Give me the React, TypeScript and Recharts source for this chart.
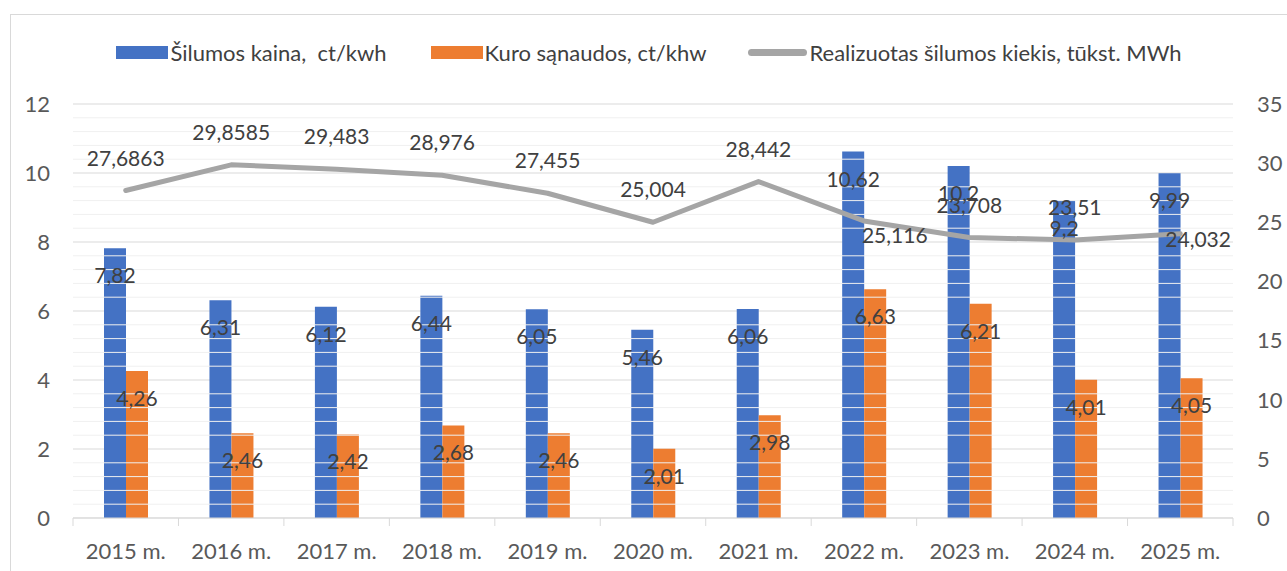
import React from 'react';
import {
  ComposedChart, Bar, Line, XAxis, YAxis, CartesianGrid, Legend, LabelList, ReferenceLine,
} from 'recharts';

const categories = ['2015 m.', '2016 m.', '2017 m.', '2018 m.', '2019 m.', '2020 m.', '2021 m.', '2022 m.', '2023 m.', '2024 m.', '2025 m.'];
const heatPrice = [7.82, 6.31, 6.12, 6.44, 6.05, 5.46, 6.06, 10.62, 10.2, 9.2, 9.99];
const fuelCost = [4.26, 2.46, 2.42, 2.68, 2.46, 2.01, 2.98, 6.63, 6.21, 4.01, 4.05];
const heatSold = [27.6863, 29.8585, 29.483, 28.976, 27.455, 25.004, 28.442, 25.116, 23.708, 23.51, 24.032];
const leftTicks = [0, 2, 4, 6, 8, 10, 12];
const rightTicks = [0, 5, 10, 15, 20, 25, 30, 35];
const minorGrid = [0.4, 0.8, 1.2, 1.6, 2.4, 2.8, 3.2, 3.6, 4.4, 4.8, 5.2, 5.6, 6.4, 6.8, 7.2, 7.6, 8.4, 8.8, 9.2, 9.6, 10.4, 10.8, 11.2, 11.6];

const seriesNames = {
  price: 'Šilumos kaina,  ct/kwh',
  fuel: 'Kuro sąnaudos, ct/khw',
  sold: 'Realizuotas šilumos kiekis, tūkst. MWh',
};

const data = categories.map((c, i) => ({
  category: c,
  price: heatPrice[i],
  fuel: fuelCost[i],
  sold: heatSold[i],
}));

const BLUE = '#4472C4';
const ORANGE = '#ED7D31';
const GREY = '#A5A5A5';
const TEXT = '#404040';
const AXIS_TEXT = '#595959';
const FONT = 'Lato, "Open Sans", sans-serif';
const TICK_MARGIN = 25;

const fmt = (v: any) => String(v).replace('.', ',');

const XTick = (props: any) => {
  const { x, y, payload, index } = props;
  const off = payload && payload.offset ? payload.offset : 0;
  const axisY = y - TICK_MARGIN;
  return (
    <g>
      <line x1={x - off} x2={x - off} y1={axisY} y2={axisY + 8} stroke="#d9d9d9" strokeWidth={1} />
      {index === categories.length - 1 && (
        <line x1={x + off} x2={x + off} y1={axisY} y2={axisY + 8} stroke="#d9d9d9" strokeWidth={1} />
      )}
      <text x={x} y={y} dy="0.71em" textAnchor="middle" fill={AXIS_TEXT} fontSize={22} fontFamily={FONT}>
        {payload.value}
      </text>
    </g>
  );
};

const LineLabel = (props: any) => {
  const { x, y, value, index } = props;
  let tx = x;
  let ty = y - 25;
  let anchor: any = 'middle';
  if (index === 7) {
    tx = x - 2;
    ty = y + 22;
    anchor = 'start';
  } else if (index === 10) {
    tx = x - 15;
    ty = y + 13;
    anchor = 'start';
  }
  return (
    <text x={tx} y={ty} textAnchor={anchor} fill={TEXT} fontSize={21} fontFamily={FONT}>
      {fmt(value)}
    </text>
  );
};

const LegendContent = () => (
  <div style={{ display: 'flex', justifyContent: 'center', alignItems: 'center', fontFamily: FONT, fontSize: 22, color: TEXT, height: 30, whiteSpace: 'pre' }}>
    <div style={{ display: 'flex', alignItems: 'center', marginRight: 44 }}>
      <div style={{ width: 52, height: 13, background: BLUE, marginRight: 2 }} />
      <span>{seriesNames.price}</span>
    </div>
    <div style={{ display: 'flex', alignItems: 'center', marginRight: 42 }}>
      <div style={{ width: 52, height: 13, background: ORANGE, marginRight: 2 }} />
      <span>{seriesNames.fuel}</span>
    </div>
    <div style={{ display: 'flex', alignItems: 'center' }}>
      <div style={{ width: 59, height: 7, background: GREY, borderRadius: 4, marginRight: 2 }} />
      <span>{seriesNames.sold}</span>
    </div>
  </div>
);

export default function App() {
  return (
    <div style={{ position: 'fixed', left: 0, top: 0, width: 1287, height: 571, overflow: 'hidden', background: '#fff' }}>
      <div style={{ position: 'absolute', left: 10, top: 14, width: 1300, height: 600, border: '1px solid #d9d9d9' }}>
        <ComposedChart
          width={1276}
          height={556}
          data={data}
          margin={{ top: 89, right: 0, left: 0, bottom: 0 }}
          barGap={0}
          style={{ fontFamily: FONT }}
        >
          {minorGrid.map((v) => (
            <ReferenceLine key={v} yAxisId="left" y={v} stroke="#f0f0f0" strokeWidth={1} ifOverflow="hidden" />
          ))}
          <CartesianGrid yAxisId="left" vertical={false} stroke="#d9d9d9" />
          <XAxis
            dataKey="category"
            height={53}
            interval={0}
            axisLine={{ stroke: '#d9d9d9' }}
            tickLine={false}
            tickSize={0}
            tickMargin={TICK_MARGIN}
            tick={<XTick />}
          />
          <YAxis
            yAxisId="left"
            width={62}
            domain={[0, 12]}
            ticks={leftTicks}
            axisLine={false}
            tickLine={false}
            tickSize={0}
            tickMargin={23}
            tick={{ fill: AXIS_TEXT, fontSize: 22, fontFamily: FONT }}
          />
          <YAxis
            yAxisId="right"
            orientation="right"
            width={54}
            domain={[0, 35]}
            ticks={rightTicks}
            axisLine={false}
            tickLine={false}
            tickSize={0}
            tickMargin={24}
            tick={{ fill: AXIS_TEXT, fontSize: 22, fontFamily: FONT }}
          />
          <Legend
            verticalAlign="middle"
            align="center"
            layout="horizontal"
            wrapperStyle={{ top: 22, left: 0, width: 1276 }}
            content={<LegendContent />}
          />
          <Bar yAxisId="left" dataKey="price" name={seriesNames.price} fill={BLUE} barSize={22} isAnimationActive={false}>
            <LabelList dataKey="price" position="insideTop" offset={20} formatter={fmt} fill={TEXT} fontSize={21} fontFamily={FONT} />
          </Bar>
          <Bar yAxisId="left" dataKey="fuel" name={seriesNames.fuel} fill={ORANGE} barSize={22} isAnimationActive={false}>
            <LabelList dataKey="fuel" position="insideTop" offset={20} formatter={fmt} fill={TEXT} fontSize={21} fontFamily={FONT} />
          </Bar>
          <Line
            yAxisId="right"
            type="linear"
            dataKey="sold"
            name={seriesNames.sold}
            stroke={GREY}
            strokeWidth={5}
            strokeLinejoin="round"
            strokeLinecap="round"
            dot={false}
            activeDot={false}
            isAnimationActive={false}
          >
            <LabelList dataKey="sold" content={<LineLabel />} />
          </Line>
        </ComposedChart>
      </div>
    </div>
  );
}
